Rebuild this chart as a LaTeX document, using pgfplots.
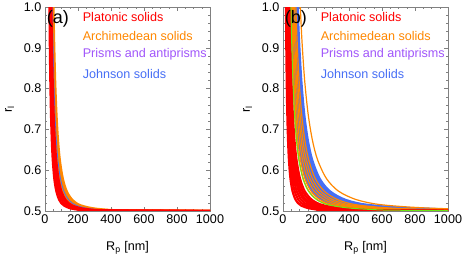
\documentclass[border=0pt]{standalone}
\usepackage{fontspec}
\setmainfont{Liberation Sans}
\usepackage{pgfplots}
\usepackage{pgfplotstable}
\pgfplotsset{compat=1.18}
\definecolor{cred}{RGB}{255,0,0}
\definecolor{corange}{RGB}{255,135,0}
\definecolor{cpurple}{RGB}{160,85,250}
\definecolor{cblue}{RGB}{70,110,245}
\definecolor{cgreen}{RGB}{110,230,20}
% panel (a)
\pgfplotstableread{
r a27 a31 a35 a39 a40 a44 a45 a48 a52
1.1173 24.8 28.5 32.2 35.8 36.8 40.4 41.4 44.1 47.8
1.0 27 31 35 39 40 44 45 48 52
0.9132 29.1 33.4 37.8 42.1 43.2 47.5 48.6 51.8 56.1
0.82 32.3 37.0 41.8 46.6 47.8 52.6 53.8 57.4 62.1
0.7378 36.3 41.7 47.1 52.5 53.8 59.2 60.6 64.6 70.0
0.673 41.3 47.4 53.5 59.6 61.2 67.3 68.8 73.4 79.5
0.625 47.0 54.0 60.9 67.9 69.6 76.6 78.3 83.6 90.5
0.58 56.2 64.5 72.8 81.2 83.2 91.6 93.6 99.9 108.2
0.5488 68.5 78.6 88.8 98.9 101.4 111.6 114.1 121.7 131.9
0.527 86.7 99.6 112.4 125.3 128.5 141.3 144.5 154.2 167.0
0.5139 113.2 130.0 146.8 163.5 167.7 184.5 188.7 201.3 218.0
0.505 170.4 195.6 220.9 246.1 252.4 277.6 284.0 302.9 328.1
0.50125 296.7 340.7 384.7 428.6 439.6 483.6 494.6 527.5 571.5
0.50008 899.1 1032.3 1165.5 1298.7 1332 1465.2 1498.5 1598.4 1731.6
0.50001 1871 2148 2425.5 2702.7 2772 3049.2 3118.5 3326.4 3603.6
}\tblA
% panel (b)
\pgfplotstableread{
s r a14 a18 a22 a26 a30 a33 a37 a39 a41 a45 a48 a49 a53 a56 a59 a62 a65 a68 a71 a74 a78 a81 a85 a88 a105
0.9 1.1173 12.6 16.2 19.8 23.4 27 29.7 33.3 35.1 36.9 40.5 43.2 44.1 47.7 50.4 53.1 55.8 58.5 61.2 63.9 66.6 70.2 72.9 76.5 79.2 94.5
1 1.0 14 18 22 26 30 33 37 39 41 45 48 49 53 56 59 62 65 68 71 74 78 81 85 88 105
1.1 0.9132 15.4 19.8 24.2 28.6 33 36.3 40.7 42.9 45.1 49.5 52.8 53.9 58.3 61.6 64.9 68.2 71.5 74.8 78.1 81.4 85.8 89.1 93.5 96.8 115.5
1.25 0.82 17.5 22.5 27.5 32.5 37.5 41.25 46.25 48.75 51.25 56.25 60 61.25 66.25 70 73.75 77.5 81.25 85 88.75 92.5 97.5 101.25 106.25 110 131.25
1.45 0.7378 20.3 26.1 31.9 37.7 43.5 47.85 53.65 56.55 59.45 65.25 69.6 71.05 76.85 81.2 85.55 89.9 94.25 98.6 102.95 107.3 113.1 117.45 123.25 127.6 152.25
1.7 0.673 23.8 30.6 37.4 44.2 51 56.1 62.9 66.3 69.7 76.5 81.6 83.3 90.1 95.2 100.3 105.4 110.5 115.6 120.7 125.8 132.6 137.7 144.5 149.6 178.5
2 0.625 28 36 44 52 60 66 74 78 82 90 96 98 106 112 118 124 130 136 142 148 156 162 170 176 210
2.5 0.58 35 45 55 65 75 82.5 92.5 97.5 102.5 112.5 120 122.5 132.5 140 147.5 155 162.5 170 177.5 185 195 202.5 212.5 220 262.5
3.2 0.5488 44.8 57.6 70.4 83.2 96 105.6 118.4 124.8 131.2 144 153.6 156.8 169.6 179.2 188.8 198.4 208 217.6 227.2 236.8 249.6 259.2 272 281.6 336
4.3 0.527 60.2 77.4 94.6 111.8 129 141.9 159.1 167.7 176.3 193.5 206.4 210.7 227.9 240.8 253.7 266.6 279.5 292.4 305.3 318.2 335.4 348.3 365.5 378.4 451.5
6 0.5139 84 108 132 156 180 198 222 234 246 270 288 294 318 336 354 372 390 408 426 444 468 486 510 528 630
10 0.505 140 180 220 260 300 330 370 390 410 450 480 490 530 560 590 620 650 680 710 740 780 810 850 880 1050
20 0.50125 280 360 440 520 600 660 740 780 820 900 960 980 1060 1120 1180 1240 1300 1360 1420 1480 1560 1620 1700 1760 2100
80 0.50008 1120 1440 1760 2080 2400 2640 2960 3120 3280 3600 3840 3920 4240 4480 4720 4960 5200 5440 5680 5920 6240 6480 6800 7040 8400
}\tblB
\newcommand\curveA[3]{\addplot[#1, line width=#2, smooth, forget plot] table[x=a#3, y=r] {\tblA};}
\newcommand\curve[3]{\addplot[#1, line width=#2, smooth, forget plot] table[x=a#3, y=r] {\tblB};}
\tikzset{lbl/.style={anchor=west, inner sep=0pt, font=\fontsize{12.6}{14}\selectfont}}
\pgfplotsset{
  panel/.style={
    anchor=south west, scale only axis, width=165pt, height=204pt,
    xmin=0, xmax=1000, ymin=0.5, ymax=1.0,
    xtick={0,200,400,600,800,1000}, ytick={0.5,0.6,0.7,0.8,0.9,1.0},
    minor x tick num=3, minor y tick num=4,
    major tick length=4pt, minor tick length=2pt,
    axis line style={draw=gray}, tick style={gray},
    tick label style={font=\fontsize{12.6}{14}\selectfont, black},
    /pgf/number format/assume math mode=true,
    /pgf/number format/1000 sep={},
    yticklabel style={/pgf/number format/fixed, /pgf/number format/precision=1, /pgf/number format/fixed zerofill},
    label style={font=\fontsize{12.6}{14}\selectfont},
    xlabel={R\textsubscript{p} [nm]},
    ylabel={r\textsubscript{l}},
    xlabel style={at={(axis description cs:0.5,0)}, anchor=center, yshift=-37pt},
    ylabel style={at={(axis description cs:-0.215,0.5)}, anchor=center},
  },
}
\begin{document}
\begin{tikzpicture}
\path[use as bounding box] (0,0) rectangle (463pt,259pt);
\begin{axis}[panel, at={(45pt,48pt)}]
\curveA{corange}{2pt}{40}
\curveA{corange}{2pt}{44}
\curveA{corange}{2pt}{48}
\curveA{corange}{2pt}{52}
\curveA{cblue}{0.8pt}{45}
\curveA{cred}{2.2pt}{27}
\curveA{cred}{2.2pt}{31}
\curveA{cred}{2.2pt}{35}
\curveA{cred}{2.2pt}{39}
\node[lbl, font=\fontsize{18}{20}\selectfont] at (rel axis cs:0.01,0.94) {(a)};
\node[lbl, text=cred] at (rel axis cs:0.228,0.949) {Platonic solids};
\node[lbl, text=corange] at (rel axis cs:0.228,0.857) {Archimedean solids};
\node[lbl, text=cpurple] at (rel axis cs:0.228,0.767) {Prisms and antiprisms};
\node[lbl, text=cblue] at (rel axis cs:0.228,0.673) {Johnson solids};
\end{axis}
\begin{axis}[panel, at={(283pt,48pt)}]
\curve{cblue}{2.5pt}{56}
\curve{cblue}{2.5pt}{62}
\curve{cblue}{2.5pt}{68}
\curve{cblue}{2.5pt}{74}
\curve{cblue}{2.5pt}{81}
\curve{cblue}{2.5pt}{85}
\curve{cblue}{2.5pt}{88}
\curve{corange}{1.2pt}{49}
\curve{corange}{1.2pt}{53}
\curve{corange}{1.2pt}{59}
\curve{corange}{1.2pt}{65}
\curve{corange}{1.2pt}{71}
\curve{corange}{1.2pt}{78}
\curve{cred}{2.2pt}{18}
\curve{cred}{2.2pt}{22}
\curve{cred}{2.2pt}{26}
\curve{cred}{2.2pt}{30}
\curve{cred}{2.2pt}{33}
\curve{cred}{2.2pt}{37}
\curve{cred}{2.2pt}{41}
\curve{cgreen}{1pt}{48}
\curve{corange}{1.2pt}{105}
\node[lbl, font=\fontsize{18}{20}\selectfont] at (rel axis cs:0.01,0.94) {(b)};
\node[lbl, text=cred] at (rel axis cs:0.228,0.949) {Platonic solids};
\node[lbl, text=corange] at (rel axis cs:0.228,0.857) {Archimedean solids};
\node[lbl, text=cpurple] at (rel axis cs:0.228,0.767) {Prisms and antiprisms};
\node[lbl, text=cblue] at (rel axis cs:0.228,0.673) {Johnson solids};
\end{axis}
\end{tikzpicture}
\end{document}
